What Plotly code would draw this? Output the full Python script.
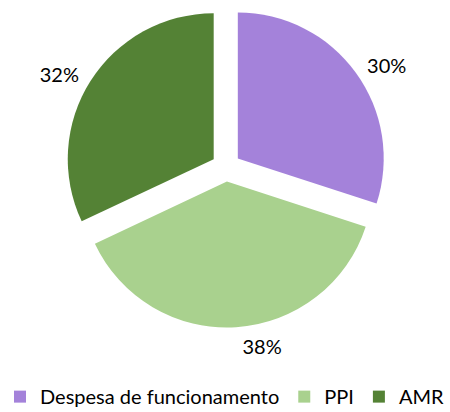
import plotly.graph_objects as go

categories = ["Despesa de funcionamento", "PPI", "AMR"]
values = [30, 38, 32]
colors = ["#A482DA", "#A9D18E", "#548235"]

W, H = 450, 412
cx, cy = 226, 167          # pie centre (px from top-left)
size_pie = 321             # domain side for the pie itself
size_lab = 334             # domain side for the percentage-label ring


def dom(size, ccy=cy):
    return dict(
        x=[(cx - size / 2) / W, (cx + size / 2) / W],
        y=[max(0, 1 - (ccy + size / 2) / H), min(1, 1 - (ccy - size / 2) / H)],
    )


fig = go.Figure()

# visible pie (no text)
fig.add_trace(go.Pie(
    labels=categories,
    values=values,
    sort=False,
    direction="clockwise",
    rotation=0,
    pull=[0.1, 0.1, 0.1],
    marker=dict(colors=colors, line=dict(width=0)),
    textinfo="none",
    domain=dom(size_pie),
    hoverinfo="label+percent",
    showlegend=True,
))

# transparent ring carrying the outside percentage labels
fig.add_trace(go.Pie(
    labels=categories,
    values=values,
    sort=False,
    direction="clockwise",
    rotation=0,
    marker=dict(colors=["rgba(0,0,0,0)"] * 3, line=dict(width=0)),
    textinfo="percent",
    texttemplate="%{percent:.0%}",
    textposition="outside",
    textfont=dict(family="Lato", size=20, color="#000000"),
    domain=dom(size_lab),
    hoverinfo="skip",
    showlegend=False,
))

fig.update_layout(
    template="none",
    width=W, height=H,
    margin=dict(l=0, r=0, t=0, b=0, pad=0, autoexpand=False),
    paper_bgcolor="white",
    plot_bgcolor="white",
    showlegend=True,
    legend=dict(
        orientation="h",
        x=0.5, xanchor="center",
        y=-0.01, yanchor="bottom",
        font=dict(family="Lato", size=20, color="#000000"),
        bgcolor="rgba(0,0,0,0)",
        itemwidth=30,
        tracegroupgap=0,
    ),
)

fig.write_html("out.html", config={"displayModeBar": False},
               post_script="document.body.style.margin='0px';")
